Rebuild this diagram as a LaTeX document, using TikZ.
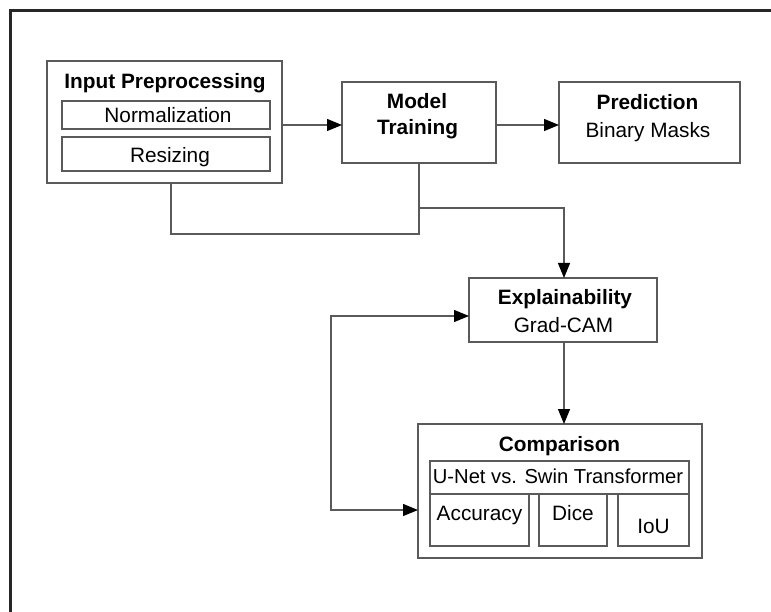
\documentclass[tikz,border=0pt]{standalone}
\usepackage{fontspec}
\setmainfont{Liberation Sans}
\usetikzlibrary{arrows.meta}
\definecolor{edgegray}{HTML}{5A5A5A}
\begin{document}
\begin{tikzpicture}[x=1pt,y=-1pt,
  every node/.style={inner sep=0pt, outer sep=0pt},
  box/.style={draw=edgegray, line width=1.2pt},
  txt/.style={anchor=base, text=black, font=\fontsize{20.8}{25}\selectfont},
  btxt/.style={anchor=base, text=black, font=\fontsize{20.8}{25}\selectfont\bfseries},
  tip/.tip={Triangle[length=15pt,width=12pt,color=black]},
  link/.style={draw=edgegray, line width=1.2pt},
  arr/.style={link, -tip},
  twoway/.style={link, tip-tip}]

\useasboundingbox (0,0) rectangle (771,612);
\fill[white] (0,0) rectangle (771,612);
\clip (0,0) rectangle (771,612);

% frame around the figure
\draw[line width=2.2pt, black!85] (10.5,640) -- (10.5,10.5) -- (800,10.5);

% input preprocessing group
\node[box, minimum width=235pt, minimum height=122pt] (inp) at (164.5,122) {};
\node[btxt] (inpT) at (165,89) {Input Preprocessing};
\node[box, minimum width=208pt, minimum height=28pt] (norm) at (166,115) {};
\node[txt] (normT) at (168,123) {Normalization};
\node[box, minimum width=208pt, minimum height=34pt] (resz) at (166,154) {};
\node[txt] (reszT) at (170,162.5) {Resizing};

% model training
\node[box, minimum width=154pt, minimum height=81pt] (model) at (419,122.5) {};
\node[btxt] (modelA) at (417,109) {Model};
\node[btxt] (modelB) at (417.5,135) {Training};

% prediction
\node[box, minimum width=181pt, minimum height=81pt] (pred) at (649.5,122.5) {};
\node[btxt] (predA) at (647.5,109.5) {Prediction};
\node[txt] (predB) at (648,137.5) {Binary Masks};

% explainability
\node[box, minimum width=188pt, minimum height=64pt] (expl) at (563,310) {};
\node[btxt] (explA) at (565,304.5) {Explainability};
\node[txt] (explB) at (563.5,332.5) {Grad-CAM};

% comparison group
\node[box, minimum width=284pt, minimum height=134pt] (comp) at (560,491) {};
\node[btxt] (compT) at (559.5,451.5) {Comparison};
\node[box, minimum width=259pt, minimum height=33pt] (unet) at (559.5,477.5) {};
\node[txt, font=\fontsize{20.2}{24}\selectfont] (unetT) at (558,483.5) {U-Net vs. Swin Transformer};
\node[box, minimum width=99pt, minimum height=52pt] (acc) at (479.5,520) {};
\node[txt] (accT) at (479.5,520.5) {Accuracy};
\node[box, minimum width=68pt, minimum height=52pt] (dice) at (573,520) {};
\node[txt] (diceT) at (573,520.5) {Dice};
\node[box, minimum width=71pt, minimum height=52pt] (iou) at (653.5,520) {};
\node[txt] (iouT) at (653.5,533.5) {IoU};

% connectors
\coordinate (rowA) at (0,125);
\draw[arr] (inp.east |- rowA) -- (model.west |- rowA);
\draw[arr] (model.east |- rowA) -- (pred.west |- rowA);

\coordinate (jn) at (171,234);
\draw[link] (inp.south -| jn) -- (jn) -- (model.south |- jn) -- (model.south);
\coordinate (br) at (419,208);
\coordinate (dropx) at (564,0);
\draw[arr] (model.south |- br) -| (dropx |- expl.north);

\draw[arr] (dropx |- expl.south) -- (dropx |- comp.north);

\coordinate (lb) at (331,510);
\coordinate (lt) at (331,316);
\draw[twoway] (comp.west |- lb) -- (lb) -- (lt) -- (expl.west |- lt);
\end{tikzpicture}
\end{document}
